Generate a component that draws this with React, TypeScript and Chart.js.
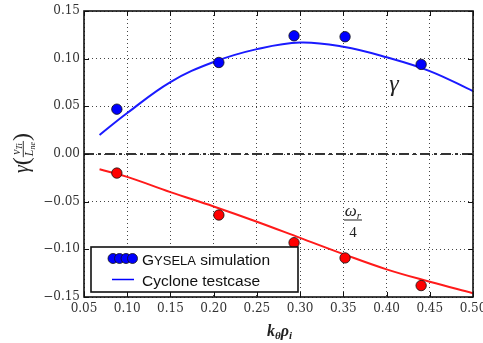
import React, { useEffect, useRef } from 'react';
import { Chart, registerables } from 'chart.js';

Chart.register(...registerables);

// ---- data ----
const SIM_K = [0.088, 0.206, 0.293, 0.352, 0.44];
const SIM_GAMMA = [0.047, 0.096, 0.124, 0.123, 0.094];
const SIM_OMEGA4 = [-0.02, -0.064, -0.093, -0.109, -0.138];

const CURVE_K = [0.068, 0.1, 0.15, 0.2, 0.25, 0.3, 0.35, 0.4, 0.45, 0.5];
const CYC_GAMMA = [0.02, 0.043, 0.0755, 0.0965, 0.11, 0.117, 0.1125, 0.1015, 0.087, 0.066];
const CYC_OMEGA4 = [-0.016, -0.024, -0.04, -0.055, -0.071, -0.088, -0.105, -0.121, -0.134, -0.146];

const ZERO_K = [0.05, 0.5];
const ZERO_V = [0, 0];

const X_MIN = 0.05, X_MAX = 0.5, Y_MIN = -0.15, Y_MAX = 0.15, STEP = 0.05;

const pts = (xs: number[], ys: number[]) => xs.map((x, i) => ({ x, y: ys[i] }));

type Part = { t: string; font: string; dy?: number };
function richWidth(ctx: CanvasRenderingContext2D, parts: Part[]) {
  let w = 0;
  for (const p of parts) { ctx.font = p.font; w += ctx.measureText(p.t).width; }
  return w;
}
function drawRich(ctx: CanvasRenderingContext2D, parts: Part[], x: number, y: number) {
  let cx = x;
  for (const p of parts) {
    ctx.font = p.font;
    ctx.fillText(p.t, cx, y + (p.dy || 0));
    cx += ctx.measureText(p.t).width;
  }
}

const SERIF = '"Liberation Serif", serif';
const SANS = '"Liberation Sans", Arial, sans-serif';

const decorPlugin = {
  id: 'decor',
  afterDatasetsDraw(chart: any) {
    const ctx: CanvasRenderingContext2D = chart.ctx;
    const a = chart.chartArea;
    const xs = chart.scales.x, ys = chart.scales.y;
    ctx.save();
    // inward ticks
    ctx.strokeStyle = '#111';
    ctx.lineWidth = 1;
    ctx.setLineDash([]);
    ctx.beginPath();
    xs.ticks.forEach((t: any) => {
      const px = Math.round(xs.getPixelForValue(t.value)) + 0.5;
      ctx.moveTo(px, a.bottom); ctx.lineTo(px, a.bottom - 5);
      ctx.moveTo(px, a.top); ctx.lineTo(px, a.top + 5);
    });
    ys.ticks.forEach((t: any) => {
      const py = Math.round(ys.getPixelForValue(t.value)) + 0.5;
      ctx.moveTo(a.left, py); ctx.lineTo(a.left + 5, py);
      ctx.moveTo(a.right, py); ctx.lineTo(a.right - 5, py);
    });
    ctx.stroke();
    // frame
    ctx.lineWidth = 1.6;
    ctx.strokeRect(a.left, a.top, a.right - a.left, a.bottom - a.top);

    // gamma annotation
    ctx.fillStyle = '#222';
    ctx.textBaseline = 'alphabetic';
    ctx.textAlign = 'left';
    ctx.font = `italic 24px ${SERIF}`;
    const gw = ctx.measureText('γ').width;
    ctx.fillText('γ', 394 - gw / 2, 91);

    // omega_r / 4 annotation
    const num: Part[] = [
      { t: 'ω', font: `italic 17px ${SERIF}` },
      { t: 'r', font: `italic 11px ${SERIF}`, dy: 3 },
    ];
    const nw = richWidth(ctx, num);
    drawRich(ctx, num, 353 - nw / 2, 216);
    ctx.fillRect(344, 219.5, 18, 1);
    ctx.font = `15px ${SERIF}`;
    const fw = ctx.measureText('4').width;
    ctx.fillText('4', 353 - fw / 2, 237);

    // legend
    const L = 91, T = 247, R = 298, B = 292;
    ctx.fillStyle = '#fff';
    ctx.fillRect(L, T, R - L, B - T);
    ctx.strokeStyle = '#111';
    ctx.lineWidth = 1.6;
    ctx.strokeRect(L, T, R - L, B - T);
    [113, 119.5, 126, 132.5].forEach((cx) => {
      ctx.beginPath();
      ctx.arc(cx, 258.5, 5, 0, Math.PI * 2);
      ctx.fillStyle = '#0000ff';
      ctx.fill();
      ctx.lineWidth = 0.8;
      ctx.strokeStyle = '#111';
      ctx.stroke();
    });
    ctx.strokeStyle = '#0000ff';
    ctx.lineWidth = 1.5;
    ctx.beginPath();
    ctx.moveTo(112, 279.5); ctx.lineTo(134, 279.5);
    ctx.stroke();
    ctx.fillStyle = '#111';
    drawRich(ctx, [
      { t: 'G', font: `15.5px ${SANS}` },
      { t: 'YSELA', font: `13px ${SANS}` },
      { t: ' simulation', font: `15.5px ${SANS}` },
    ], 142, 265);
    ctx.font = `15.5px ${SANS}`;
    ctx.fillText('Cyclone testcase', 142, 285.5);
    ctx.restore();
  },
  afterDraw(chart: any) {
    const ctx: CanvasRenderingContext2D = chart.ctx;
    const a = chart.chartArea;
    ctx.save();
    ctx.fillStyle = '#222';
    ctx.textBaseline = 'alphabetic';
    ctx.textAlign = 'left';
    // x axis title: k_theta rho_i
    const xt: Part[] = [
      { t: 'k', font: `bold italic 16px ${SERIF}` },
      { t: 'θ', font: `bold italic 11px ${SERIF}`, dy: 3 },
      { t: 'ρ', font: `bold italic 16px ${SERIF}` },
      { t: 'i', font: `bold italic 11px ${SERIF}`, dy: 3 },
    ];
    const xw = richWidth(ctx, xt);
    drawRich(ctx, xt, (a.left + a.right) / 2 - xw / 2 + 1, 336);

    // y axis title: gamma (v_Ti / L_ne)
    ctx.translate(28, 153);
    ctx.rotate(-Math.PI / 2);
    const gam: Part = { t: 'γ', font: `italic 20px ${SERIF}` };
    const lp: Part = { t: '(', font: `24px ${SERIF}` };
    const rp: Part = { t: ')', font: `24px ${SERIF}` };
    const numP: Part[] = [
      { t: 'v', font: `italic 12px ${SERIF}` },
      { t: 'Ti', font: `italic 8px ${SERIF}`, dy: 2.5 },
    ];
    const denP: Part[] = [
      { t: 'L', font: `italic 12px ${SERIF}` },
      { t: 'ne', font: `italic 8px ${SERIF}`, dy: 2 },
    ];
    const gwid = richWidth(ctx, [gam]);
    const lw = richWidth(ctx, [lp]);
    const rw = richWidth(ctx, [rp]);
    const nW = richWidth(ctx, numP);
    const dW = richWidth(ctx, denP);
    const fW = Math.max(nW, dW) + 2;
    const total = gwid + lw + fW + rw;
    let x = -total / 2;
    drawRich(ctx, [gam], x, 0); x += gwid;
    drawRich(ctx, [lp], x, 1); x += lw;
    drawRich(ctx, numP, x + (fW - nW) / 2, -8.5);
    ctx.fillRect(x, -5.2, fW, 0.9);
    drawRich(ctx, denP, x + (fW - dW) / 2, 5);
    x += fW;
    drawRich(ctx, [rp], x, 1);
    ctx.restore();
  },
};

export default function App() {
  const ref = useRef<HTMLCanvasElement>(null);
  useEffect(() => {
    document.body.style.margin = '0';
    const canvas = ref.current!;
    const tickFont = { family: '"DejaVu Serif", serif', size: 12 };
    const fmt = (v: any) => {
      const n = Number(v);
      const s = Math.abs(n).toFixed(2);
      return n < -1e-9 ? '\u2212' + s : s;
    };
    const chart = new Chart(canvas, {
      type: 'scatter',
      data: {
        datasets: [
          {
            label: 'GYSELA simulation',
            data: pts(SIM_K, SIM_GAMMA),
            backgroundColor: '#0000ff',
            borderColor: '#111',
            borderWidth: 0.8,
            pointRadius: 5.2,
            showLine: false,
          },
          {
            label: 'GYSELA omega',
            data: pts(SIM_K, SIM_OMEGA4),
            backgroundColor: '#ff0000',
            borderColor: '#111',
            borderWidth: 0.8,
            pointRadius: 5.2,
            showLine: false,
          },
          {
            label: 'Cyclone testcase',
            data: pts(CURVE_K, CYC_GAMMA),
            borderColor: '#1a1aff',
            borderWidth: 2,
            pointRadius: 0,
            showLine: true,
            tension: 0.4,
          },
          {
            label: 'Cyclone omega',
            data: pts(CURVE_K, CYC_OMEGA4),
            borderColor: '#ff1a1a',
            borderWidth: 2,
            pointRadius: 0,
            showLine: true,
            tension: 0.4,
          },
          {
            label: 'zero',
            data: pts(ZERO_K, ZERO_V),
            borderColor: '#333',
            borderWidth: 2,
            borderDash: [10, 4, 3, 4],
            pointRadius: 0,
            showLine: true,
          },
        ] as any,
      },
      options: {
        responsive: false,
        animation: false,
        devicePixelRatio: 1,
        layout: { padding: { left: 0, top: 11, right: 10, bottom: 0 } },
        plugins: { legend: { display: false }, tooltip: { enabled: false } },
        scales: {
          x: {
            type: 'linear',
            min: X_MIN,
            max: X_MAX,
            ticks: { stepSize: STEP, font: tickFont, color: '#333', padding: 5, callback: fmt, maxRotation: 0 },
            grid: { color: '#444', lineWidth: 1, drawTicks: false, borderDash: [1, 3] } as any,
            border: { display: false, dash: [1, 3] },
            afterFit: (s: any) => { s.height = 46; s.paddingLeft = 0; s.paddingRight = 0; },
          },
          y: {
            type: 'linear',
            min: Y_MIN,
            max: Y_MAX,
            ticks: { stepSize: STEP, font: tickFont, color: '#333', padding: 4, callback: fmt },
            grid: { color: '#444', lineWidth: 1, drawTicks: false, borderDash: [1, 3] } as any,
            border: { display: false, dash: [1, 3] },
            afterFit: (s: any) => { s.width = 84; s.paddingTop = 0; s.paddingBottom = 0; },
          },
        },
      } as any,
      plugins: [decorPlugin],
    });
    return () => chart.destroy();
  }, []);
  return (
    <div style={{ position: 'relative', width: 483, height: 343 }}>
      <canvas ref={ref} width={483} height={343} style={{ display: 'block' }} />
    </div>
  );
}
